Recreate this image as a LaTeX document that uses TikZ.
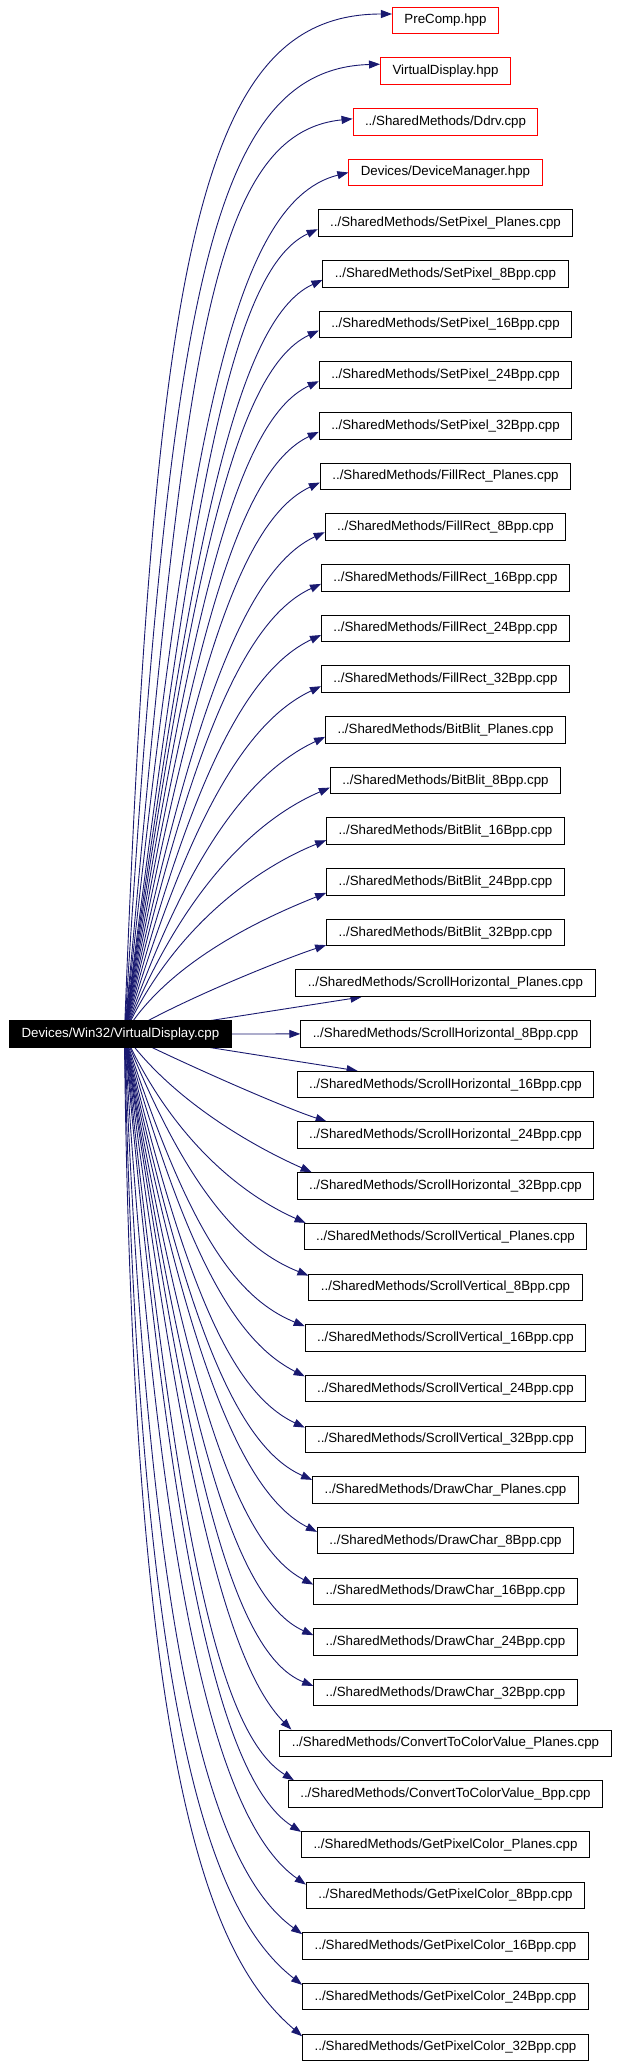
\documentclass[tikz,border=0pt]{standalone}
\usepackage{fontspec}
\setmainfont{Liberation Sans}
\usetikzlibrary{arrows.meta,backgrounds}
\definecolor{edgeblue}{HTML}{191970}
\begin{document}
\begin{tikzpicture}[x=1pt,y=1pt,
  box/.style={draw=black, fill=white, line width=1pt, rectangle, minimum height=26.5pt,
    inner xsep=12pt, inner ysep=0pt, font=\fontsize{13.3}{15}\selectfont,
    text height=9.6pt, text depth=2.8pt},
  redbox/.style={box, draw=red},
  mainbox/.style={box, fill=black, text=white},
  edge/.style={draw=edgeblue, line width=0.9pt, -{Triangle[length=11pt,width=8pt]}}]
\useasboundingbox (0,0) rectangle (616,-2067);
\node[mainbox] (main) at (120.4,-1034) {Devices/Win32/VirtualDisplay.cpp};
\node[redbox] (n0) at (445.5,-20.5) {PreComp.hpp};
\node[redbox] (n1) at (445.5,-71.2) {VirtualDisplay.hpp};
\node[redbox] (n2) at (445.5,-121.8) {../SharedMethods/Ddrv.cpp};
\node[redbox] (n3) at (445.5,-172.5) {Devices/DeviceManager.hpp};
\node[box] (n4) at (445.5,-223.2) {../SharedMethods/SetPixel\_Planes.cpp};
\node[box] (n5) at (445.5,-273.9) {../SharedMethods/SetPixel\_8Bpp.cpp};
\node[box] (n6) at (445.5,-324.5) {../SharedMethods/SetPixel\_16Bpp.cpp};
\node[box] (n7) at (445.5,-375.2) {../SharedMethods/SetPixel\_24Bpp.cpp};
\node[box] (n8) at (445.5,-425.9) {../SharedMethods/SetPixel\_32Bpp.cpp};
\node[box] (n9) at (445.5,-476.5) {../SharedMethods/FillRect\_Planes.cpp};
\node[box] (n10) at (445.5,-527.2) {../SharedMethods/FillRect\_8Bpp.cpp};
\node[box] (n11) at (445.5,-577.9) {../SharedMethods/FillRect\_16Bpp.cpp};
\node[box] (n12) at (445.5,-628.5) {../SharedMethods/FillRect\_24Bpp.cpp};
\node[box] (n13) at (445.5,-679.2) {../SharedMethods/FillRect\_32Bpp.cpp};
\node[box] (n14) at (445.5,-729.9) {../SharedMethods/BitBlit\_Planes.cpp};
\node[box] (n15) at (445.5,-780.6) {../SharedMethods/BitBlit\_8Bpp.cpp};
\node[box] (n16) at (445.5,-831.2) {../SharedMethods/BitBlit\_16Bpp.cpp};
\node[box] (n17) at (445.5,-881.9) {../SharedMethods/BitBlit\_24Bpp.cpp};
\node[box] (n18) at (445.5,-932.6) {../SharedMethods/BitBlit\_32Bpp.cpp};
\node[box] (n19) at (445.5,-983.2) {../SharedMethods/ScrollHorizontal\_Planes.cpp};
\node[box] (n20) at (445.5,-1033.9) {../SharedMethods/ScrollHorizontal\_8Bpp.cpp};
\node[box] (n21) at (445.5,-1084.6) {../SharedMethods/ScrollHorizontal\_16Bpp.cpp};
\node[box] (n22) at (445.5,-1135.2) {../SharedMethods/ScrollHorizontal\_24Bpp.cpp};
\node[box] (n23) at (445.5,-1185.9) {../SharedMethods/ScrollHorizontal\_32Bpp.cpp};
\node[box] (n24) at (445.5,-1236.6) {../SharedMethods/ScrollVertical\_Planes.cpp};
\node[box] (n25) at (445.5,-1287.3) {../SharedMethods/ScrollVertical\_8Bpp.cpp};
\node[box] (n26) at (445.5,-1337.9) {../SharedMethods/ScrollVertical\_16Bpp.cpp};
\node[box] (n27) at (445.5,-1388.6) {../SharedMethods/ScrollVertical\_24Bpp.cpp};
\node[box] (n28) at (445.5,-1439.3) {../SharedMethods/ScrollVertical\_32Bpp.cpp};
\node[box] (n29) at (445.5,-1489.9) {../SharedMethods/DrawChar\_Planes.cpp};
\node[box] (n30) at (445.5,-1540.6) {../SharedMethods/DrawChar\_8Bpp.cpp};
\node[box] (n31) at (445.5,-1591.3) {../SharedMethods/DrawChar\_16Bpp.cpp};
\node[box] (n32) at (445.5,-1641.9) {../SharedMethods/DrawChar\_24Bpp.cpp};
\node[box] (n33) at (445.5,-1692.6) {../SharedMethods/DrawChar\_32Bpp.cpp};
\node[box] (n34) at (445.5,-1743.3) {../SharedMethods/ConvertToColorValue\_Planes.cpp};
\node[box] (n35) at (445.5,-1793.9) {../SharedMethods/ConvertToColorValue\_Bpp.cpp};
\node[box] (n36) at (445.5,-1844.6) {../SharedMethods/GetPixelColor\_Planes.cpp};
\node[box] (n37) at (445.5,-1895.3) {../SharedMethods/GetPixelColor\_8Bpp.cpp};
\node[box] (n38) at (445.5,-1945.9) {../SharedMethods/GetPixelColor\_16Bpp.cpp};
\node[box] (n39) at (445.5,-1996.6) {../SharedMethods/GetPixelColor\_24Bpp.cpp};
\node[box] (n40) at (445.5,-2047.3) {../SharedMethods/GetPixelColor\_32Bpp.cpp};
\begin{pgfonlayer}{background}
\fill[white] (0,0) rectangle (616,-2067);
\coordinate (S) at ([xshift=4pt]main.center);
% upper fan
\draw[edge] (S) .. controls +(30,784) and +(-192,0) .. ([yshift=6.5pt]n0.west);
\draw[edge] (S) .. controls +(45,718) and +(-175,-5) .. ([yshift=7pt]n1.west);
\draw[edge] (S) .. controls +(60,650) and +(-150,-15) .. ([yshift=3pt]n2.west);
\draw[edge] (S) .. controls +(62,578) and +(-120,-30) .. (n3.west);
\draw[edge] (S) .. controls +(65,507) and +(-91,-42) .. ([yshift=-6pt]n4.west);
\draw[edge] (S) .. controls +(65,475) and +(-89,-41) .. ([yshift=-6pt]n5.west);
\draw[edge] (S) .. controls +(65,443) and +(-87,-41) .. ([yshift=-6pt]n6.west);
\draw[edge] (S) .. controls +(65,411) and +(-85,-40) .. ([yshift=-6pt]n7.west);
\draw[edge] (S) .. controls +(65,379) and +(-83,-39) .. ([yshift=-6pt]n8.west);
\draw[edge] (S) .. controls +(65,347) and +(-82,-38) .. ([yshift=-6pt]n9.west);
\draw[edge] (S) .. controls +(65,316) and +(-80,-37) .. ([yshift=-5pt]n10.west);
\draw[edge] (S) .. controls +(65,284) and +(-78,-36) .. ([yshift=-6pt]n11.west);
\draw[edge] (S) .. controls +(65,251) and +(-76,-36) .. ([yshift=-6.5pt]n12.west);
\draw[edge] (S) .. controls +(65,219) and +(-74,-35) .. ([yshift=-7pt]n13.west);
\draw[edge] (S) .. controls +(65,187) and +(-72,-34) .. ([yshift=-7pt]n14.west);
\draw[edge] (S) .. controls +(60,150) and +(-70,-30) .. ([yshift=-7pt]n15.west);
\draw[edge] (S) .. controls +(50,110) and +(-65,-26) .. ([yshift=-9pt]n16.west);
\draw[edge] (S) .. controls +(45,75) and +(-55,-22) .. ([yshift=-11pt]n17.west);
\draw[edge] (S) .. controls +(56,34) and +(-40,-13) .. ([yshift=-12.5pt]n18.west);
\draw[edge] (S) -- ([xshift=66pt]n19.south west);
\draw[edge] (main.east) -- (n20.west);
\draw[edge] (S) -- ([xshift=61pt]n21.north west);
% lower fan
\draw[edge] (S) .. controls +(60,-30) and +(-43,14) .. ([xshift=30pt]n22.north west);
\draw[edge] (S) .. controls +(50,-70) and +(-50,22) .. ([xshift=15pt]n23.north west);
\draw[edge] (S) .. controls +(50,-110) and +(-59,26) .. ([xshift=2pt]n24.north west);
\draw[edge] (S) .. controls +(60,-150) and +(-70,28) .. ([yshift=-2pt]n25.north west);
\draw[edge] (S) .. controls +(60,-185) and +(-74,30) .. ([yshift=-2pt]n26.north west);
\draw[edge] (S) .. controls +(60,-216) and +(-71,36) .. ([yshift=-1.5pt]n27.north west);
\draw[edge] (S) .. controls +(60,-250) and +(-74,35) .. ([yshift=-2pt]n28.north west);
\draw[edge] (S) .. controls +(60,-282) and +(-77,34) .. ([yshift=-3.7pt]n29.north west);
\draw[edge] (S) .. controls +(60,-314) and +(-77,39) .. ([yshift=-5pt]n30.north west);
\draw[edge] (S) .. controls +(60,-347) and +(-78,40) .. ([yshift=-7pt]n31.north west);
\draw[edge] (S) .. controls +(60,-379) and +(-82,37) .. ([yshift=-7pt]n32.north west);
\draw[edge] (S) .. controls +(60,-411) and +(-85,34) .. ([yshift=-7pt]n33.north west);
\draw[edge] (S) .. controls +(55,-440) and +(-64,64) .. ([xshift=12pt]n34.north west);
\draw[edge] (S) .. controls +(50,-470) and +(-81,50) .. ([xshift=6pt]n35.north west);
\draw[edge] (S) .. controls +(45,-503) and +(-84,54) .. ([yshift=-1pt]n36.north west);
\draw[edge] (S) .. controls +(35,-570) and +(-86,60) .. ([yshift=-3pt]n37.north west);
\draw[edge] (S) .. controls +(25,-640) and +(-87,63) .. ([yshift=-2pt]n38.north west);
\draw[edge] (S) .. controls +(15,-705) and +(-87,68) .. ([yshift=-2pt]n39.north west);
\draw[edge] (S) .. controls +(8,-766) and +(-86,74) .. ([yshift=-2.7pt]n40.north west);
\end{pgfonlayer}
\end{tikzpicture}
\end{document}
